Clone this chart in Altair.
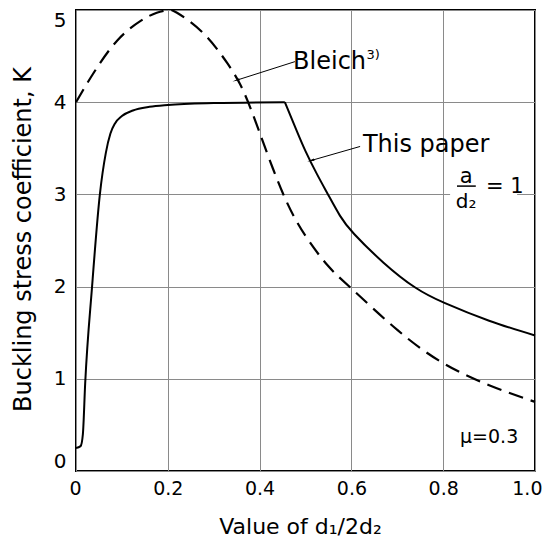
import altair as alt
import pandas as pd

# ---- data ----
paper_a_x = [0.0, 0.010, 0.015, 0.020, 0.035, 0.052, 0.065, 0.075, 0.085, 0.100, 0.124, 0.160, 0.200, 0.300, 0.455]
paper_a_k = [0.25, 0.27, 0.40, 0.95, 2.00, 3.00, 3.45, 3.66, 3.77, 3.85, 3.91, 3.95, 3.97, 3.99, 4.00]
paper_b_x = [0.455, 0.48, 0.50, 0.525, 0.549, 0.575, 0.606, 0.67, 0.739, 0.804, 0.90, 1.00]
paper_b_k = [4.00, 3.70, 3.47, 3.22, 3.00, 2.77, 2.57, 2.26, 1.99, 1.82, 1.63, 1.47]

bleich_x = [0.0, 0.04, 0.09, 0.14, 0.176, 0.20, 0.22, 0.277, 0.33, 0.357, 0.375, 0.40, 0.45,
            0.50, 0.55, 0.60, 0.70, 0.80, 0.90, 1.00]
bleich_k = [4.00, 4.33, 4.67, 4.88, 4.97, 5.00, 4.97, 4.75, 4.42, 4.20, 4.00, 3.67, 3.02,
            2.55, 2.22, 1.98, 1.53, 1.17, 0.93, 0.75]

x_ticks = [0, 0.2, 0.4, 0.6, 0.8, 1.0]
y_ticks = [0, 1, 2, 3, 4, 5]

FONT = "DejaVu Sans"

paper_a = pd.DataFrame({"x": paper_a_x, "k": paper_a_k})
paper_b = pd.DataFrame({"x": paper_b_x, "k": paper_b_k})
bleich = pd.DataFrame({"x": bleich_x, "k": bleich_k})

xs = alt.Scale(domain=[0, 1], nice=False, zero=False)
ys = alt.Scale(domain=[0, 5], nice=False, zero=False)

X = alt.X("x:Q", scale=xs, axis=alt.Axis(
    values=x_ticks, title="Value of d₁/2d₂",
    labelExpr="datum.value == 0 ? '0' : format(datum.value, '.1f')",
    grid=True, gridColor="#8a8a8a", gridWidth=1, domain=False, ticks=False,
    labelFont=FONT, labelFontSize=19, labelColor="black", labelPadding=8,
    labelFlush=True, labelFlushOffset=7,
    titleFont=FONT, titleFontSize=22, titleFontWeight="normal", titleColor="black",
    titleX=224, titleY=62, titleBaseline="alphabetic", titleAlign="center"))
Y = alt.Y("k:Q", scale=ys, axis=alt.Axis(
    values=y_ticks, title="Buckling stress coefficient, K", format="d",
    grid=True, gridColor="#8a8a8a", gridWidth=1, domain=False, ticks=False,
    labelFont=FONT, labelFontSize=20, labelColor="black", labelPadding=10,
    labelFlush=True,
    titleFont=FONT, titleFontSize=24, titleFontWeight="normal", titleColor="black",
    titleX=-53, titleY=229, titleBaseline="middle", titleAlign="center", titleAngle=270))

line_a = alt.Chart(paper_a).mark_line(color="black", strokeWidth=2, interpolate="monotone").encode(
    x=X, y=Y)
line_b = alt.Chart(paper_b).mark_line(color="black", strokeWidth=2, interpolate="natural").encode(
    x="x:Q", y="k:Q")
line_bleich = alt.Chart(bleich).mark_line(color="black", strokeWidth=2.2, strokeDash=[15, 8],
                                          interpolate="natural").encode(x="x:Q", y="k:Q")

# white box behind the a/d2 label (breaks the grid line)
box = pd.DataFrame({"x": [0.815], "x2": [0.961], "k": [3.26], "k2": [2.81]})
box_layer = alt.Chart(box).mark_rect(color="white").encode(x="x:Q", x2="x2:Q", y="k:Q", y2="k2:Q")

# text annotations
labels = pd.DataFrame({
    "x": [0.473, 0.625, 0.850, 0.850, 0.893, 0.900],
    "k": [4.44, 3.54, 3.19, 2.92, 3.08, 0.37],
    "t": ["Bleich", "This paper", "a", "d₂", "= 1", "μ=0.3"],
    "size": [24, 24, 21, 20, 21, 19],
    "align": ["left", "left", "center", "center", "left", "center"],
})
text_left = alt.Chart(labels[labels["align"] == "left"]).mark_text(
    font=FONT, color="black", align="left", baseline="middle").encode(
    x="x:Q", y="k:Q", text="t:N", size=alt.Size("size:Q", scale=None, legend=None))
text_center = alt.Chart(labels[labels["align"] == "center"]).mark_text(
    font=FONT, color="black", align="center", baseline="middle").encode(
    x="x:Q", y="k:Q", text="t:N", size=alt.Size("size:Q", scale=None, legend=None))
sup = alt.Chart(pd.DataFrame({"x": [0.633], "k": [4.51], "t": ["3)"]})).mark_text(
    font=FONT, fontSize=13, color="black", align="left", baseline="middle").encode(
    x="x:Q", y="k:Q", text="t:N")

# fraction bar
bar = alt.Chart(pd.DataFrame({"x": [0.830], "x2": [0.871], "k": [3.09]})).mark_rule(
    color="black", strokeWidth=1.5).encode(x="x:Q", x2="x2:Q", y="k:Q")

# leader arrows
arrows = pd.DataFrame({
    "x": [0.477, 0.619], "k": [4.44, 3.52],
    "x2": [0.351, 0.514], "k2": [4.24, 3.37],
    "ang": [253, 254],
})
arrow_lines = alt.Chart(arrows).mark_rule(color="black", strokeWidth=1).encode(
    x="x:Q", y="k:Q", x2="x2:Q", y2="k2:Q")
arrow_heads = alt.Chart(arrows).mark_point(shape="wedge", filled=True, color="black",
                                           size=70, opacity=1).encode(
    x="x2:Q", y="k2:Q", angle=alt.Angle("ang:Q", scale=None))

chart = alt.layer(
    line_a, line_b, box_layer, line_bleich, text_left, text_center, sup, bar, arrow_lines, arrow_heads
).properties(
    width=459, height=461,
    autosize=alt.AutoSizeParams(type="none"),
    padding={"left": 68, "top": 2, "right": 8, "bottom": 66},
    background="white",
).configure_view(stroke="black", strokeWidth=2)

chart.save("out.html", embed_options={"renderer": "svg", "actions": False})
